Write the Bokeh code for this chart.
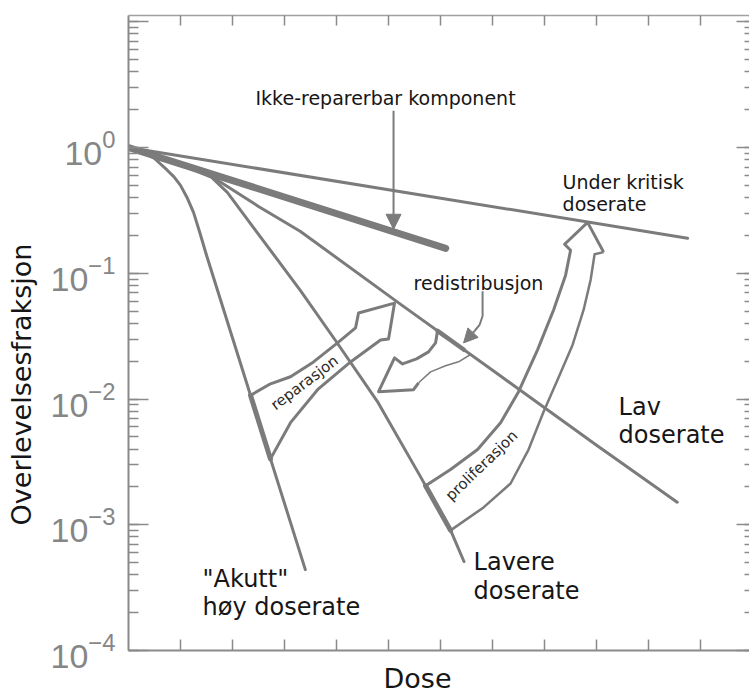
import numpy as np
from bokeh.plotting import figure
from bokeh.models import (Range1d, LinearAxis, LogAxis, LogTicker, FixedTicker,
                          Label, Arrow, NormalHead)
from bokeh.embed import file_html
from bokeh.resources import INLINE

# ---- survival curves: dose (arbitrary units) vs surviving fraction ----
dose_akutt = [0.0, 0.25, 0.5, 0.75, 0.875, 1.0, 1.125, 1.25, 1.375, 1.5, 2.0, 2.5, 3.4]
surv_akutt = [1.0, 0.947, 0.818, 0.657, 0.584, 0.50, 0.401, 0.305, 0.208, 0.139,
              0.0306, 0.0067, 0.00044]

dose_lavere = [0.0, 0.8, 1.6, 1.9, 2.5, 3.3, 4.0, 4.8, 5.6, 6.2, 6.45]
surv_lavere = [1.0, 0.789, 0.578, 0.440, 0.204, 0.0735, 0.0284, 0.00935, 0.00247, 0.00089, 0.00051]

dose_lav = [0.0, 0.8, 1.6, 2.5, 3.3, 5.2, 7.1, 9.0, 10.55]
surv_lav = [1.0, 0.782, 0.589, 0.340, 0.216, 0.0579, 0.0158, 0.00429, 0.00151]

dose_kritisk = [0.0, 10.75]
surv_kritisk = [1.0, 0.19]

dose_irrep = [0.0, 6.1]
surv_irrep = [1.0, 0.158]

dose_ticks = list(range(1, 12))

# ---- styling ----
LINE = "#7b7b7b"
AXC = "#8a8a8a"
TICKLAB = "#868686"
TXT = "#161616"
FONT = "DejaVu Sans"
NBSP = "\u00a0"

p = figure(width=749, height=696, x_range=Range1d(0, 11.94),
           y_range=Range1d(1e-4, 10 ** 1.05), y_axis_type="log",
           toolbar_location=None, output_backend="svg",
           min_border_left=128, min_border_right=0,
           min_border_top=15, min_border_bottom=44)
p.outline_line_color = None
p.grid.visible = False
p.background_fill_color = "white"
p.border_fill_color = "white"


def style_plain(ax, tick_in, minor_in=0, line_color=AXC, line_width=2):
    ax.major_label_text_font_size = "0px"
    ax.major_label_standoff = 0
    ax.major_tick_in = tick_in
    ax.major_tick_out = 0
    ax.minor_tick_in = minor_in
    ax.minor_tick_out = 0
    ax.major_tick_line_color = AXC
    ax.minor_tick_line_color = AXC
    ax.major_tick_line_width = 1.5
    ax.minor_tick_line_width = 1.5
    ax.axis_line_color = line_color
    ax.axis_line_width = line_width


def style_title(ax, text, standoff):
    ax.axis_label = text
    ax.axis_label_text_font = FONT
    ax.axis_label_text_font_size = "27px"
    ax.axis_label_text_font_style = "normal"
    ax.axis_label_text_color = TXT
    ax.axis_label_standoff = standoff


# bottom axis (the title is padded so that it sits left of the frame centre)
xa = p.xaxis[0]
xa.ticker = FixedTicker(ticks=dose_ticks)
xa.major_label_overrides = {t: "" for t in dose_ticks}
style_plain(xa, 11)
style_title(xa, "Dose" + NBSP * 5, 12)

# top axis
ta = LinearAxis(ticker=FixedTicker(ticks=dose_ticks),
                major_label_overrides={t: "" for t in dose_ticks})
style_plain(ta, 10, line_color="#a0a0a0", line_width=1.5)
p.add_layout(ta, "above")

# left log axis with 10^n labels
ya = p.yaxis[0]
ya.ticker = LogTicker(num_minor_ticks=10)
ya.major_label_overrides = {10: ""}
ya.major_label_text_font = "Liberation Sans"
ya.major_label_text_font_size = "34px"
ya.major_label_text_color = TICKLAB
ya.major_label_standoff = 13
ya.major_tick_in = 20
ya.major_tick_out = 0
ya.minor_tick_in = 10
ya.minor_tick_out = 0
ya.major_tick_line_color = AXC
ya.minor_tick_line_color = AXC
ya.major_tick_line_width = 1.5
ya.minor_tick_line_width = 1.5
ya.axis_line_color = AXC
ya.axis_line_width = 2
style_title(ya, "Overlevelsesfraksjon" + NBSP * 12, 11)

# right log axis: ticks only
ra = LogAxis(ticker=LogTicker(num_minor_ticks=10))
ra.major_label_overrides = {10 ** k: "" for k in range(-4, 2)}
style_plain(ra, 13, minor_in=5, line_color=None)
p.add_layout(ra, "right")


def log_on(curve_dose, curve_surv, d):
    return float(np.interp(d, curve_dose, np.log10(curve_surv)))


def xy(points):
    return [d for d, _ in points], [10 ** L for _, L in points]


# ---- survival curves ----
for d, s, w in [(dose_kritisk, surv_kritisk, 3), (dose_irrep, surv_irrep, 7),
                (dose_lav, surv_lav, 3), (dose_lavere, surv_lavere, 3),
                (dose_akutt, surv_akutt, 3)]:
    p.line(d, s, line_color=LINE, line_width=w, line_cap="round", line_join="round")

# ---- hollow process arrows, outlines in (dose, log10 survival) ----
# reparasjon: from the acute curve to the low dose-rate curve
rep_a = (2.346, log_on(dose_akutt, surv_akutt, 2.346))
rep_b = (2.73, log_on(dose_akutt, surv_akutt, 2.73))
rep_upper = [(2.731, -1.879), (3.115, -1.823), (3.558, -1.705), (4.019, -1.554), (4.365, -1.435)]
rep_head = [(4.423, -1.316), (5.115, -1.237), (5.0, -1.522)]
rep_lower = [(4.846, -1.530), (4.269, -1.705), (3.635, -1.926), (3.115, -2.188)]
x, y = xy([rep_a] + rep_upper + rep_head + rep_lower + [rep_b])
p.line(x, y, line_color=LINE, line_width=3, line_join="round")
x, y = xy([rep_a, rep_b])
p.line(x, y, line_color=LINE, line_width=5, line_cap="round")

# proliferasjon: from the lower dose-rate curve up to the sub-critical line
pro_a = (5.712, log_on(dose_lavere, surv_lavere, 5.712))
pro_b = (6.192, log_on(dose_lavere, surv_lavere, 6.192))
pro_inner = [(6.192, -2.561), (6.712, -2.402), (7.154, -2.188), (7.5, -1.942), (7.865, -1.609),
             (8.173, -1.292), (8.404, -1.015), (8.5, -0.817)]
pro_head = [(8.385, -0.769), (8.827, -0.595), (9.135, -0.832)]
pro_outer = [(8.962, -0.848), (8.885, -1.054), (8.75, -1.292), (8.538, -1.570), (8.25, -1.847),
             (7.981, -2.101), (7.692, -2.402), (7.346, -2.672), (6.827, -2.862)]
x, y = xy([pro_a] + pro_inner + pro_head)
p.line(x, y, line_color=LINE, line_width=3, line_join="round")
x, y = xy(pro_head[-1:] + pro_outer + [pro_b])
p.line(x, y, line_color=LINE, line_width=2.5, line_join="round")
x, y = xy([pro_a, pro_b])
p.line(x, y, line_color=LINE, line_width=5, line_cap="round")

# redistribusjon: hollow arrow leaving the low dose-rate line
red_a = (5.942, log_on(dose_lav, surv_lav, 5.942))
red_b = (6.577, log_on(dose_lav, surv_lav, 6.577))
red_upper = [(5.904, -1.554), (5.769, -1.625), (5.538, -1.681), (5.269, -1.721)]
red_head = [(5.115, -1.673), (4.808, -1.942), (5.481, -1.926)]
red_lower = [(5.577, -1.871), (5.808, -1.784), (6.096, -1.736), (6.346, -1.704)]
x, y = xy([red_a] + red_upper + red_head + red_lower[:1])
p.line(x, y, line_color=LINE, line_width=3, line_join="round")
x, y = xy(red_lower + [red_b])
p.line(x, y, line_color=LINE, line_width=1.5, line_join="round")
seg = np.linspace(5.942, 6.45, 5)
p.line(seg, [10 ** log_on(dose_lav, surv_lav, d) for d in seg], line_color=LINE,
       line_width=4.5, line_cap="round")

# ---- thin pointer arrows ----
p.add_layout(Arrow(end=NormalHead(size=15, fill_color=LINE, line_color=LINE, line_width=1),
                   x_start=5.096, y_start=10 ** 0.293, x_end=5.096, y_end=10 ** -0.650,
                   line_color=LINE, line_width=2))
red_ptr = [(6.808, -1.142), (6.808, -1.340), (6.75, -1.411), (6.654, -1.459)]
x, y = xy(red_ptr)
p.line(x, y, line_color=LINE, line_width=2, line_join="round")
p.add_layout(Arrow(end=NormalHead(size=14, fill_color=LINE, line_color=LINE, line_width=1),
                   x_start=6.654, y_start=10 ** -1.459, x_end=6.442, y_end=10 ** -1.554,
                   line_color=LINE, line_width=2))


# ---- text ----
def text(d, L, s, size, color=TXT, angle=0.0, align="left", baseline="alphabetic"):
    p.add_layout(Label(x=d, y=10 ** L, text=s, text_font=FONT,
                       text_font_size=f"{size}px", text_color=color, angle=angle,
                       text_align=align, text_baseline=baseline))


text(2.442, 0.396, "Ikke-reparerbar komponent", 19)
text(8.346, -0.277, "Under kritisk", 19)
text(8.346, -0.452, "doserate", 19)
text(5.481, -1.078, "redistribusjon", 19)
text(1.423, -3.433, "\"Akutt\"", 24)
text(1.423, -3.655, "høy doserate", 24)
text(6.635, -3.298, "Lavere", 24)
text(6.635, -3.528, "doserate", 24)
text(9.423, -2.061, "Lav", 24)
text(9.423, -2.283, "doserate", 24)
text(3.385, -1.871, "reparasjon", 15, color="#2a2a2a", angle=np.radians(37),
     align="center", baseline="middle")
text(6.788, -2.529, "proliferasjon", 15, color="#2a2a2a", angle=np.radians(44),
     align="center", baseline="middle")

open("out.html", "w").write(file_html(p, INLINE))
